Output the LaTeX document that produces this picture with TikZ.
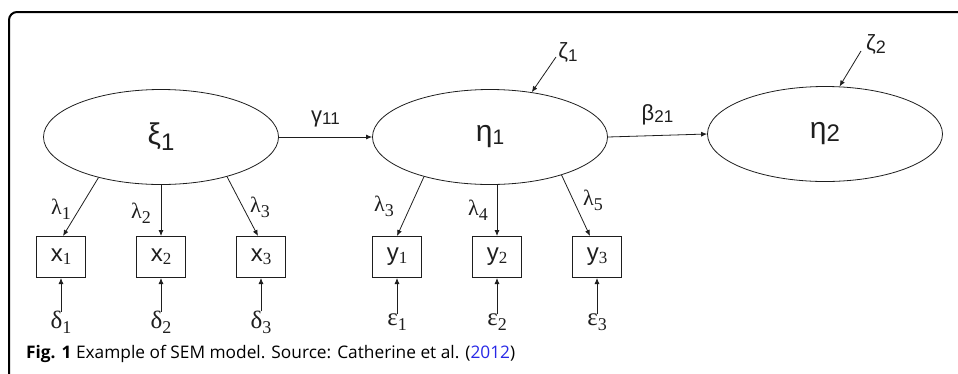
\documentclass[tikz,border=0pt]{standalone}
\usepackage{fontspec}
\setmainfont{Liberation Sans}
\newfontfamily\serifgr{Liberation Serif}
\newfontfamily\capfont{Open Sans}
\usetikzlibrary{arrows.meta,shapes.geometric}
\definecolor{linkblue}{RGB}{40,40,230}
\definecolor{ink}{RGB}{30,30,30}
\begin{document}
\begin{tikzpicture}[x=1pt,y=-1pt, ink,
  lat/.style={draw, ellipse, minimum width=235pt, minimum height=95pt, line width=0.8pt, inner sep=0pt, font=\fontsize{30}{30}\selectfont},
  obs/.style={draw, rectangle, minimum width=49pt, minimum height=41pt, line width=1pt, inner sep=0pt, font=\fontsize{24}{24}\selectfont},
  err/.style={inner sep=0pt, font=\serifgr\fontsize{25}{25}\selectfont},
  lab/.style={inner sep=0pt, font=\fontsize{22}{22}\selectfont},
  arr/.style={-{Latex[length=6pt,width=5pt]}, line width=0.8pt},
]
\useasboundingbox (0,0) rectangle (958,373);
\draw[line width=2pt, rounded corners=8pt, black] (9,380) -- (9,12) -- (965,12);

% latent variables
\node[lat] (xi) at (161,137) {ξ\raisebox{-6pt}{\fontsize{24}{24}\selectfont 1}};
\node[lat] (eta1) at (490,137) {η\raisebox{-3pt}{\fontsize{21}{21}\selectfont 1}};
\node[lat] (eta2) at (825,134) {η\raisebox{-3pt}{\fontsize{24}{24}\selectfont 2}};

% observed variables
\node[obs] (x1) at (61,257) {x\raisebox{-3pt}{\serifgr\fontsize{17}{17}\selectfont 1}};
\node[obs] (x2) at (161,257) {x\raisebox{-3pt}{\serifgr\fontsize{17}{17}\selectfont 2}};
\node[obs] (x3) at (261,257) {x\raisebox{-3pt}{\serifgr\fontsize{17}{17}\selectfont 3}};
\node[obs] (y1) at (397,257) {y\raisebox{-3pt}{\serifgr\fontsize{17}{17}\selectfont 1}};
\node[obs] (y2) at (497,257) {y\raisebox{-3pt}{\serifgr\fontsize{17}{17}\selectfont 2}};
\node[obs] (y3) at (597,257) {y\raisebox{-3pt}{\serifgr\fontsize{17}{17}\selectfont 3}};

% error terms
\node[err] (d1) at (61,322) {δ\raisebox{-5pt}{\fontsize{18}{18}\selectfont 1}};
\node[err] (d2) at (161,322) {δ\raisebox{-5pt}{\fontsize{18}{18}\selectfont 2}};
\node[err] (d3) at (261,322) {δ\raisebox{-5pt}{\fontsize{18}{18}\selectfont 3}};
\node[err] (e1) at (397,322) {ε\raisebox{-5pt}{\fontsize{18}{18}\selectfont 1}};
\node[err] (e2) at (497,322) {ε\raisebox{-5pt}{\fontsize{18}{18}\selectfont 2}};
\node[err] (e3) at (597,322) {ε\raisebox{-5pt}{\fontsize{18}{18}\selectfont 3}};

\foreach \s/\t in {d1/x1,d2/x2,d3/x3,e1/y1,e2/y2,e3/y3}
  \draw[arr] ([yshift=-1pt]\s.north) -- (\t.south);

% structural paths
\draw[arr] (xi.east) -- (eta1.west) node[lab, midway, above=10pt] {γ\raisebox{-2pt}{\fontsize{17}{17}\selectfont 11}};
\draw[arr] (eta1.east) -- (eta2.west) node[lab, midway, above=10pt] {β\raisebox{-2pt}{\fontsize{17}{17}\selectfont 21}};

% disturbances
\node[lab] (z1) at (568,52) {ζ\raisebox{-3pt}{\fontsize{17}{17}\selectfont 1}};
\node[lab] (z2) at (876,44) {ζ\raisebox{-3pt}{\fontsize{18}{18}\selectfont 2}};
\coordinate (z1s) at (556,57);
\coordinate (z2s) at (861,51);
\draw[arr] (z1s) -- (eta1.47);
\draw[arr] (z2s) -- (eta2.73);

% loadings
\draw[arr] (xi.213) -- ([xshift=2pt]x1.north);
\draw[arr] (xi.south) -- (x2.north);
\draw[arr] (xi.329) -- ([xshift=-3pt]x3.north);
\draw[arr] (eta1.211) -- (y1.north);
\draw[arr] (eta1.south -| y2.north) -- (y2.north);
\draw[arr] (eta1.332) -- ([xshift=-7pt]y3.north);

\node[lab] (l1) at (61,209) {\serifgr λ\raisebox{-5pt}{\fontsize{18}{18}\selectfont 1}};
\node[lab] (l2) at (141,213) {\serifgr λ\raisebox{-5pt}{\fontsize{18}{18}\selectfont 2}};
\node[lab] (l3) at (260,207) {\serifgr λ\raisebox{-5pt}{\fontsize{18}{18}\selectfont 3}};
\node[lab] (l3b) at (384,206) {\serifgr λ\raisebox{-5pt}{\fontsize{18}{18}\selectfont 3}};
\node[lab] (l4) at (478,210) {\serifgr λ\raisebox{-5pt}{\fontsize{18}{18}\selectfont 4}};
\node[lab] (l5) at (593,200) {\serifgr λ\raisebox{-5pt}{\fontsize{18}{18}\selectfont 5}};

% caption
\node[anchor=base west, inner sep=0pt, black, font=\capfont\fontsize{17.3}{17.3}\selectfont] (cap) at (26,358)
  {\textbf{Fig. 1} Example of SEM model. Source: Catherine et al. ({\color{linkblue}2012})};
\end{tikzpicture}
\end{document}
